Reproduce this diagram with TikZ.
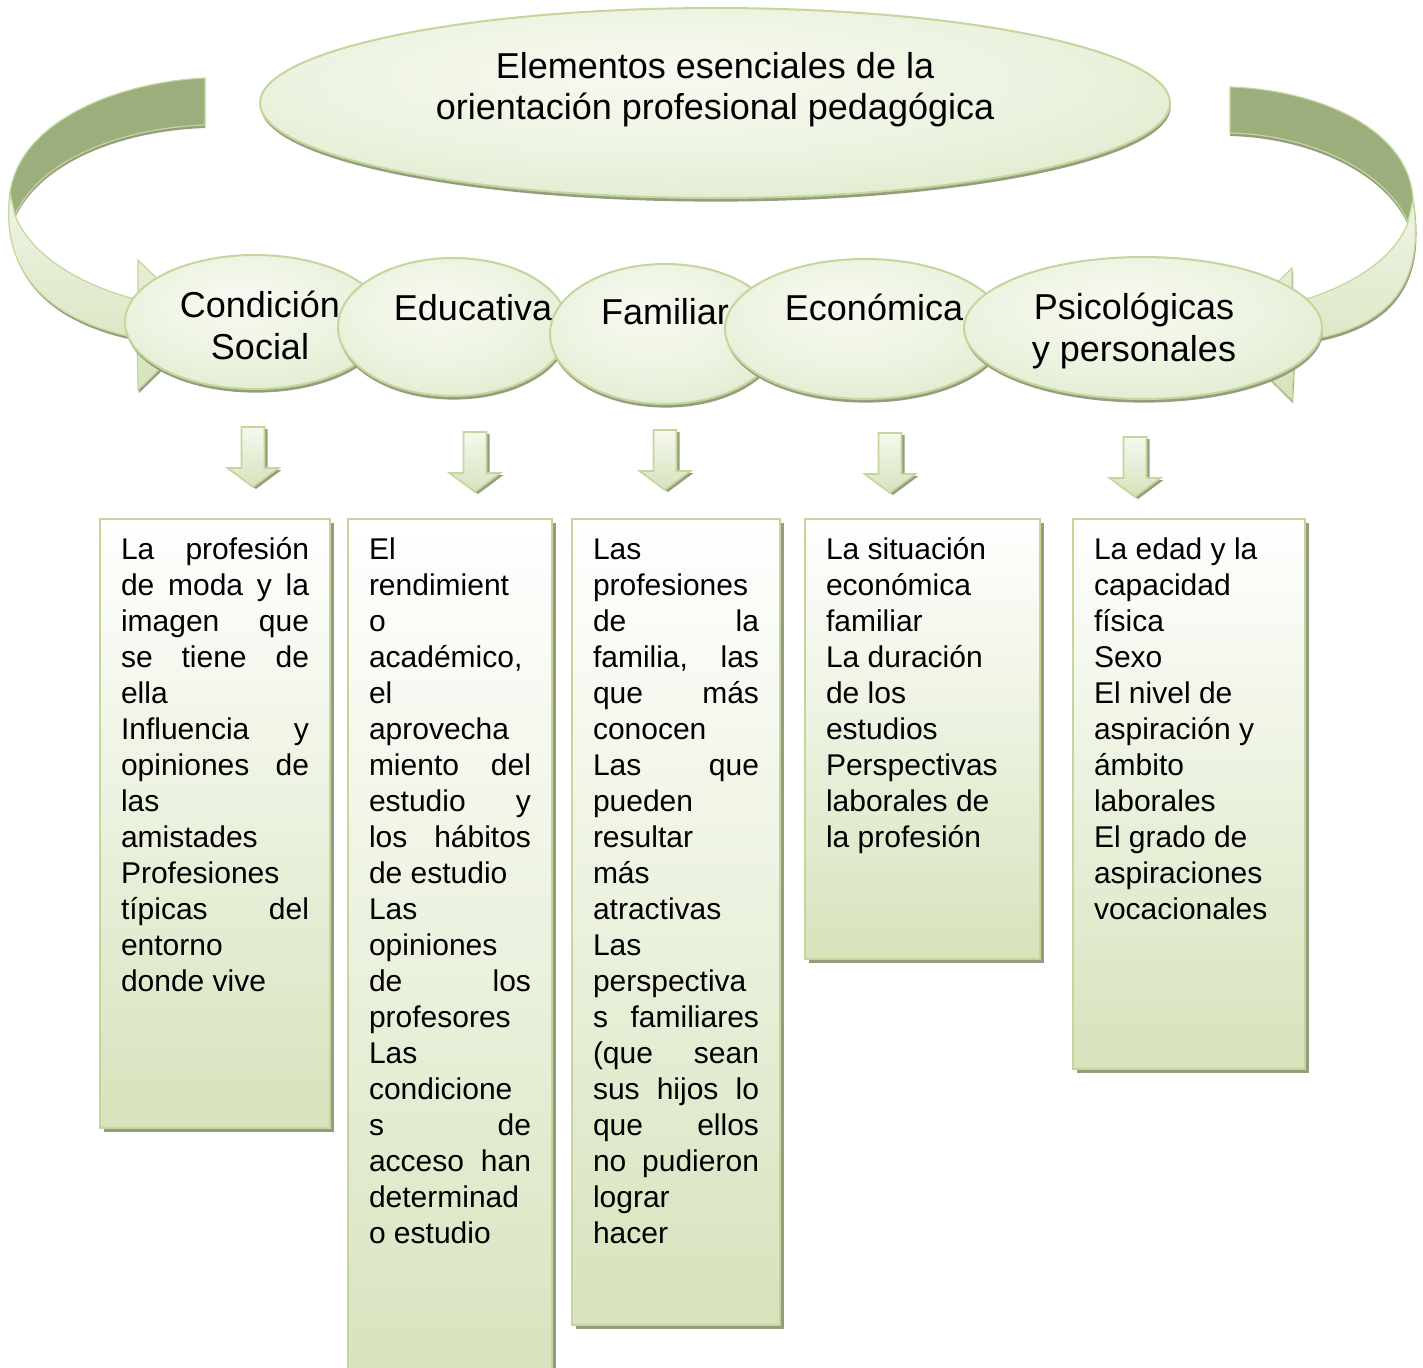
\documentclass[tikz,border=0pt]{standalone}
\usepackage{fontspec}
\setmainfont{Liberation Sans}
\usetikzlibrary{shapes.geometric, shadows}

\definecolor{rimline}{RGB}{195,214,155}
\definecolor{palegreen}{RGB}{238,244,227}
\definecolor{softgreen}{RGB}{214,227,188}
\definecolor{olivegreen}{RGB}{156,174,124}
\definecolor{rimshade}{RGB}{148,158,126}

\pgfdeclareradialshading{bubbleshade}{\pgfpoint{-4bp}{9bp}}{color(0bp)=(palegreen!50!white); color(18bp)=(palegreen); color(47bp)=(softgreen); color(60bp)=(softgreen)}

\tikzset{
  bubble/.style={ellipse, draw=rimline, line width=1pt, inner sep=0pt, outer sep=0pt,
    shading=bubbleshade,
    general shadow={fill=rimshade, shadow xshift=0.4pt, shadow yshift=-1.8pt}},
  bubbletext/.style={font=\fontsize{18}{21}\selectfont, align=center},
  listbox/.style={rectangle, draw=rimline, line width=1pt, anchor=north west,
    inner xsep=10.5pt, inner ysep=0pt, outer sep=0pt,
    top color=white, bottom color=softgreen, font=\fontsize{15}{18}\selectfont,
    general shadow={fill=rimshade, shadow xshift=2pt, shadow yshift=-2pt}},
  droparrow/.style={draw=rimline, line width=0.8pt, top color=palegreen!60!white, bottom color=softgreen,
    general shadow={fill=rimshade, shadow xshift=1.5pt, shadow yshift=-1pt}},
  backface/.style={fill=olivegreen, draw=rimline, line width=0.6pt,
    general shadow={fill=rimshade, shadow yshift=-1.5pt}},
  frontface/.style={top color=palegreen, bottom color=softgreen, draw=rimline, line width=0.6pt,
    general shadow={fill=rimshade, shadow xshift=0.5pt, shadow yshift=-1.5pt}}
}

\begin{document}
\begin{tikzpicture}[x=0.5pt, y=-0.5pt]
  \newcommand{\DropArrow}[2]{%
    \draw[droparrow, shift={(#1,#2)}] (-11.5,0) -- (11.5,0) -- (11.5,41) -- (25.5,41) -- (0,60) -- (-25.5,41) -- (-11.5,41) -- cycle;%
  }
  \newcommand{\spreadline}[1]{\makebox[\linewidth][s]{#1}}
  \path[use as bounding box, fill=white] (0,0) rectangle (1423,1367);

  % ribbons round the title
  \draw[backface] (205,78) .. controls (120,82) and (20,120) .. (10,193) -- (15,215) .. controls (40,160) and (120,128) .. (205,125) -- cycle;
  \draw[frontface] (10,193) .. controls (0,270) and (45,320) .. (137,338) -- (138,390) -- (205,325) -- (138,260) -- (138,300) .. controls (80,285) and (30,255) .. (15,215) -- cycle;
  \draw[backface] (1230,87) .. controls (1320,90) and (1410,130) .. (1413,200) -- (1408,222) .. controls (1385,170) and (1310,135) .. (1230,133) -- cycle;
  \draw[frontface] (1413,200) .. controls (1425,280) and (1395,330) .. (1295,342) -- (1292,400) -- (1225,334) -- (1292,268) -- (1292,303) .. controls (1345,290) and (1395,260) .. (1408,222) -- cycle;

  \node[bubble, minimum width=455pt, minimum height=95pt] (title) at (715,103) {};
  \node[font=\fontsize{18}{20.5}\selectfont, align=center] (titletext) at (715,90) {Elementos esenciales de la\\orientación profesional pedagógica};

  \node[bubble, minimum width=130pt, minimum height=67pt] (social) at (255,322) {};
  \node[bubbletext] (socialtext) at (260,325) {Condición\\Social};
  \node[bubble, minimum width=115pt, minimum height=69pt] (educ) at (453,327) {};
  \node[bubbletext] (eductext) at (473,308) {Educativa};
  \node[bubble, minimum width=115pt, minimum height=70pt] (famil) at (665,334) {};
  \node[bubbletext] (familtext) at (665,312) {Familiar};
  \node[bubble, minimum width=140pt, minimum height=70pt] (econ) at (865,329) {};
  \node[bubbletext] (econtext) at (874,307) {Económica};
  \node[bubble, minimum width=179pt, minimum height=71pt] (psico) at (1143,328) {};
  \node[bubbletext] (psicotext) at (1134,331) {Psicológicas\\y personales};

  \DropArrow{253}{427}
  \DropArrow{475}{432}
  \DropArrow{665}{430}
  \DropArrow{890}{433}
  \DropArrow{1135}{437}

  \node[listbox] (social list) at (100,519) {\parbox[t][304.5pt][t]{94pt}{%
    \rule{0pt}{20pt}\spreadline{La profesión}\\
    \spreadline{de moda y la}\\
    \spreadline{imagen que}\\
    \spreadline{se tiene de}\\
    ella\\
    \spreadline{Influencia y}\\
    \spreadline{opiniones de}\\
    las\\
    amistades\\
    Profesiones\\
    \spreadline{típicas del}\\
    entorno\\
    donde vive}};
  \node[listbox] (educ list) at (348,519) {\parbox[t][440.5pt][t]{81pt}{%
    \rule{0pt}{20pt}El\\
    rendimient\\
    o\\
    académico,\\
    el\\
    aprovecha\\
    \spreadline{miento del}\\
    \spreadline{estudio y}\\
    \spreadline{los hábitos}\\
    de estudio\\
    Las\\
    opiniones\\
    \spreadline{de los}\\
    profesores\\
    Las\\
    condicione\\
    \spreadline{s de}\\
    \spreadline{acceso han}\\
    determinad\\
    o estudio}};
  \node[listbox] (famil list) at (572,519) {\parbox[t][403pt][t]{83pt}{%
    \rule{0pt}{20pt}Las\\
    profesiones\\
    \spreadline{de la}\\
    \spreadline{familia, las}\\
    \spreadline{que más}\\
    conocen\\
    \spreadline{Las que}\\
    pueden\\
    resultar\\
    más\\
    atractivas\\
    Las\\
    perspectiva\\
    \spreadline{s familiares}\\
    \spreadline{(que sean}\\
    \spreadline{sus hijos lo}\\
    \spreadline{que ellos}\\
    \spreadline{no pudieron}\\
    lograr\\
    hacer}};
  \node[listbox] (econ list) at (805,519) {\parbox[t][220pt][t]{96.5pt}{%
    \rule{0pt}{20pt}La situación\\
    económica\\
    familiar\\
    La duración\\
    de los\\
    estudios\\
    Perspectivas\\
    laborales de\\
    la profesión}};
  \node[listbox] (psico list) at (1073,519) {\parbox[t][275pt][t]{95pt}{%
    \rule{0pt}{20pt}La edad y la\\
    capacidad\\
    física\\
    Sexo\\
    El nivel de\\
    aspiración y\\
    ámbito\\
    laborales\\
    El grado de\\
    aspiraciones\\
    vocacionales}};
\end{tikzpicture}
\end{document}
